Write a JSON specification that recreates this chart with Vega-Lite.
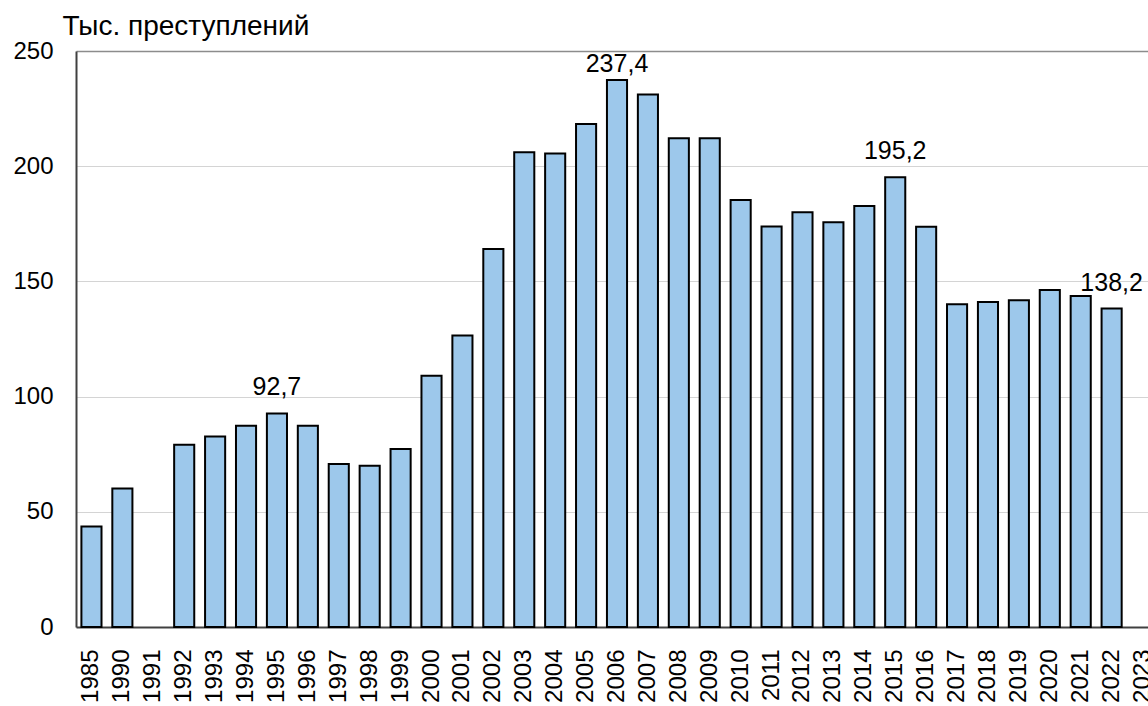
{
  "$schema": "https://vega.github.io/schema/vega-lite/v6.json",
  "width": 1072,
  "height": 576,
  "autosize": {"type": "none"},
  "padding": {"left": 76, "top": 51, "right": 0, "bottom": 79},
  "config": {
    "view": {"stroke": null},
    "font": "Liberation Sans",
    "locale": {"number": {"decimal": ",", "thousands": " ", "grouping": [3], "currency": ["", ""]}}
  },
  "data": {
    "values": [
      {"year": "1985", "value": 43.6, "peak": false},
      {"year": "1990", "value": 60.1, "peak": false},
      {"year": "1992", "value": 79.1, "peak": false},
      {"year": "1993", "value": 82.7, "peak": false},
      {"year": "1994", "value": 87.3, "peak": false},
      {"year": "1995", "value": 92.7, "peak": true},
      {"year": "1996", "value": 87.3, "peak": false},
      {"year": "1997", "value": 70.8, "peak": false},
      {"year": "1998", "value": 70.0, "peak": false},
      {"year": "1999", "value": 77.3, "peak": false},
      {"year": "2000", "value": 109.1, "peak": false},
      {"year": "2001", "value": 126.5, "peak": false},
      {"year": "2002", "value": 164.1, "peak": false},
      {"year": "2003", "value": 206.1, "peak": false},
      {"year": "2004", "value": 205.5, "peak": false},
      {"year": "2005", "value": 218.3, "peak": false},
      {"year": "2006", "value": 237.4, "peak": true},
      {"year": "2007", "value": 231.1, "peak": false},
      {"year": "2008", "value": 212.1, "peak": false},
      {"year": "2009", "value": 212.1, "peak": false},
      {"year": "2010", "value": 185.3, "peak": false},
      {"year": "2011", "value": 173.8, "peak": false},
      {"year": "2012", "value": 180.0, "peak": false},
      {"year": "2013", "value": 175.7, "peak": false},
      {"year": "2014", "value": 182.7, "peak": false},
      {"year": "2015", "value": 195.2, "peak": true},
      {"year": "2016", "value": 173.7, "peak": false},
      {"year": "2017", "value": 140.1, "peak": false},
      {"year": "2018", "value": 141.1, "peak": false},
      {"year": "2019", "value": 141.8, "peak": false},
      {"year": "2020", "value": 146.3, "peak": false},
      {"year": "2021", "value": 143.7, "peak": false},
      {"year": "2022", "value": 138.2, "peak": true}
    ]
  },
  "encoding": {
    "x": {
      "field": "year",
      "type": "ordinal",
      "scale": {
        "domain": ["1985","1990","1991","1992","1993","1994","1995","1996","1997","1998","1999","2000","2001","2002","2003","2004","2005","2006","2007","2008","2009","2010","2011","2012","2013","2014","2015","2016","2017","2018","2019","2020","2021","2022","2023"],
        "range": [0, 1082],
        "paddingInner": 0.35,
        "paddingOuter": 0.175
      },
      "axis": {
        "title": null,
        "labelAngle": 270,
        "labelAlign": "right",
        "labelBaseline": "middle",
        "labelFontSize": 24,
        "labelColor": "#000000",
        "labelPadding": 22,
        "ticks": false,
        "domainColor": "#404040",
        "domainWidth": 2,
        "grid": false,
        "labelOverlap": false
      }
    },
    "y": {
      "field": "value",
      "type": "quantitative",
      "scale": {"domain": [0, 250], "nice": false},
      "axis": {
        "title": "Тыс. преступлений",
        "titleAngle": 0,
        "titleAlign": "left",
        "titleBaseline": "alphabetic",
        "titleX": -14,
        "titleY": -17,
        "titleFontSize": 28,
        "titleFontWeight": "normal",
        "titleColor": "#000000",
        "values": [0, 50, 100, 150, 200, 250],
        "labelFontSize": 24,
        "labelColor": "#000000",
        "labelPadding": 23,
        "ticks": false,
        "domainColor": "#404040",
        "domainWidth": 2,
        "grid": true,
        "gridColor": {"condition": {"test": "datum.value === 250", "value": "#8c8c8c"}, "value": "#d4d4d4"},
        "gridWidth": {"condition": {"test": "datum.value === 250", "value": 1.5}, "value": 1}
      }
    }
  },
  "layer": [
    {
      "mark": {"type": "bar", "fill": "#9dc8eb", "stroke": "#000000", "strokeWidth": 2},
      "encoding": {}
    },
    {
      "transform": [{"filter": "datum.peak && datum.year !== '2006'"}],
      "mark": {"type": "text", "fontSize": 25, "baseline": "alphabetic", "dy": -18, "color": "#000000"},
      "encoding": {"text": {"field": "value", "type": "quantitative", "format": ".1f"}}
    },
    {
      "transform": [{"filter": "datum.year === '2006'"}],
      "mark": {"type": "text", "fontSize": 25, "baseline": "alphabetic", "dy": -8, "color": "#000000"},
      "encoding": {"text": {"field": "value", "type": "quantitative", "format": ".1f"}}
    }
  ]
}
